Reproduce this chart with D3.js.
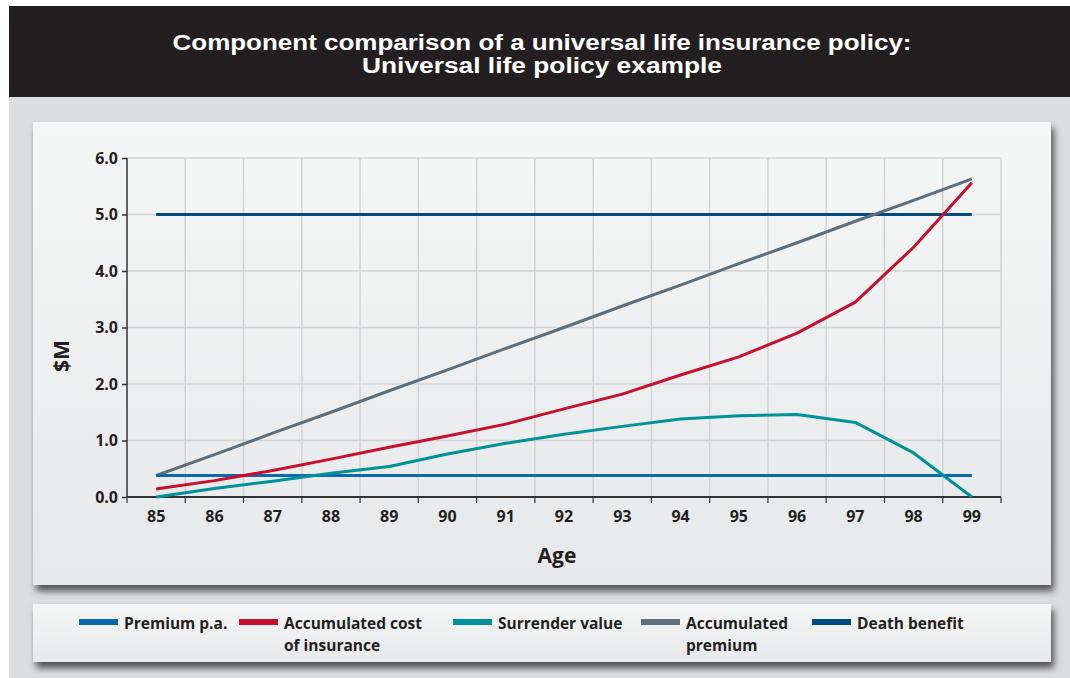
<!DOCTYPE html>
<html><head><meta charset="utf-8">
<script src="https://cdn.jsdelivr.net/npm/d3@7"></script>
<style>
html,body{margin:0;padding:0;background:#fff;}
svg{display:block;font-family:"Open Sans",sans-serif;}
</style></head>
<body>
<svg id="c" width="1070" height="678"></svg>
<script>
const ages = [85,86,87,88,89,90,91,92,93,94,95,96,97,98,99];
const premiumPA = [0.38,0.38,0.38,0.38,0.38,0.38,0.38,0.38,0.38,0.38,0.38,0.38,0.38,0.38,0.38];
const accCostInsurance = [0.14,0.29,0.47,0.67,0.88,1.08,1.29,1.56,1.82,2.16,2.48,2.90,3.45,4.42,5.56];
const surrenderValue = [0.0,0.15,0.28,0.42,0.54,0.76,0.95,1.11,1.25,1.38,1.44,1.46,1.32,0.78,0.0];
const accPremium = [0.38,0.75,1.13,1.50,1.88,2.25,2.63,3.00,3.38,3.75,4.13,4.50,4.88,5.25,5.63];
const deathBenefit = [5.0,5.0,5.0,5.0,5.0,5.0,5.0,5.0,5.0,5.0,5.0,5.0,5.0,5.0,5.0];
const yTicks = [0,1,2,3,4,5,6];
const titleLines = ["Component comparison of a universal life insurance policy:","Universal life policy example"];
const titleWidths = [739, 360];

const series = [
  {name:["Premium p.a."], values:premiumPA, color:"#0a69ad", lx:79},
  {name:["Accumulated cost","of insurance"], values:accCostInsurance, color:"#c8102e", lx:239},
  {name:["Surrender value"], values:surrenderValue, color:"#00929b", lx:453},
  {name:["Accumulated","premium"], values:accPremium, color:"#5d6f7b", lx:641},
  {name:["Death benefit"], values:deathBenefit, color:"#024a80", lx:812}
];
const drawOrder = [4,3,0,1,2];

const svg = d3.select("#c");
const defs = svg.append("defs");
const f = defs.append("filter").attr("id","sh").attr("x","-5%").attr("y","-10%").attr("width","115%").attr("height","130%");
f.append("feDropShadow").attr("dx",3).attr("dy",6).attr("stdDeviation",3.5).attr("flood-color","#3a3b3d").attr("flood-opacity",0.85);
const g1 = defs.append("linearGradient").attr("id","pg").attr("x1",0).attr("y1",0).attr("x2",0).attr("y2",1);
g1.append("stop").attr("offset","0").attr("stop-color","#f5f6f6");
g1.append("stop").attr("offset","1").attr("stop-color","#e7e8e9");
const g2 = defs.append("linearGradient").attr("id","lg").attr("x1",0).attr("y1",0).attr("x2",0).attr("y2",1);
g2.append("stop").attr("offset","0").attr("stop-color","#f4f5f5");
g2.append("stop").attr("offset","1").attr("stop-color","#e8e9ea");

// background
svg.append("rect").attr("x",9).attr("y",97).attr("width",1061).attr("height",581).attr("fill","#dcdddf");
svg.append("rect").attr("x",9).attr("y",6).attr("width",1061).attr("height",91).attr("fill","#231f20");
titleLines.forEach((t,i)=>{
  svg.append("text").attr("x",542).attr("y",50+i*23).attr("text-anchor","middle").attr("fill","#fff")
    .attr("font-family","Liberation Sans, Arial, sans-serif")
    .attr("font-size",22).attr("font-weight",700)
    .attr("textLength",titleWidths[i]).attr("lengthAdjust","spacingAndGlyphs").text(t);
});

// panels
svg.append("rect").attr("x",33).attr("y",122).attr("width",1018).attr("height",463).attr("fill","url(#pg)").attr("filter","url(#sh)");
svg.append("rect").attr("x",33).attr("y",604).attr("width",1018).attr("height",58).attr("fill","url(#lg)").attr("filter","url(#sh)");

const L=127, R=1001, T=158, B=497;
const x = d3.scaleBand().domain(ages).range([L,R]);
const y = d3.scaleLinear().domain([0,6]).range([B,T]);
const cx = a => x(a)+x.bandwidth()/2;

// grid
const grid = svg.append("g").attr("stroke","#d2d3d5").attr("stroke-width",1.5);
grid.selectAll(".h").data(yTicks.slice(1)).join("line").attr("x1",L).attr("x2",R).attr("y1",d=>y(d)).attr("y2",d=>y(d));
const bounds = ages.map(a=>x(a)+x.bandwidth());
grid.selectAll(".v").data(bounds).join("line").attr("x1",d=>d).attr("x2",d=>d).attr("y1",T).attr("y2",B);

// axes
const yAxis = d3.axisLeft(y).tickValues(yTicks).tickFormat(d3.format(".1f")).tickSize(5).tickPadding(4);
const ya = svg.append("g").attr("transform",`translate(${L},0)`).call(yAxis);
ya.select(".domain").remove();
ya.selectAll("line").attr("stroke","#333").attr("stroke-width",1.5);
ya.selectAll("text").attr("font-size",16).attr("font-weight",700).attr("fill","#231f20").attr("font-family","Open Sans");
svg.append("line").attr("x1",L).attr("x2",L).attr("y1",T).attr("y2",B).attr("stroke","#333").attr("stroke-width",1.5);

const xAxis = d3.axisBottom(x).tickSize(0).tickPadding(14);
const xa = svg.append("g").attr("transform",`translate(0,${B})`).call(xAxis);
xa.select(".domain").remove();
xa.selectAll("text").attr("font-size",16).attr("font-weight",700).attr("fill","#231f20").attr("font-family","Open Sans");
svg.append("g").selectAll("line").data([L].concat(bounds)).join("line")
  .attr("x1",d=>d).attr("x2",d=>d).attr("y1",B).attr("y2",B+6).attr("stroke","#333").attr("stroke-width",1.2);
svg.append("line").attr("x1",L).attr("x2",R).attr("y1",B).attr("y2",B).attr("stroke","#333").attr("stroke-width",2);

// axis titles
svg.append("text").attr("transform","translate(69,356) rotate(-90)").attr("text-anchor","middle")
  .attr("font-size",21).attr("font-weight",700).attr("fill","#231f20").text("$M");
svg.append("text").attr("x",557).attr("y",563).attr("text-anchor","middle")
  .attr("font-size",21).attr("font-weight",700).attr("fill","#231f20").text("Age");

// lines
const line = d3.line().x((d,i)=>cx(ages[i])).y(d=>y(d));
svg.append("g").selectAll("path").data(drawOrder.map(i=>series[i])).join("path")
  .attr("d",s=>line(s.values)).attr("fill","none").attr("stroke",s=>s.color).attr("stroke-width",3)
  .attr("stroke-linejoin","round");

// legend
const lg = svg.append("g");
series.forEach(s=>{
  lg.append("rect").attr("x",s.lx).attr("y",619).attr("width",39).attr("height",6).attr("fill",s.color);
  const t = lg.append("text").attr("x",s.lx+45).attr("y",629).attr("font-size",15.5).attr("font-weight",700).attr("fill","#231f20");
  s.name.forEach((n,i)=>t.append("tspan").attr("x",s.lx+45).attr("dy",i?22:0).text(n));
});
</script>
</body></html>
